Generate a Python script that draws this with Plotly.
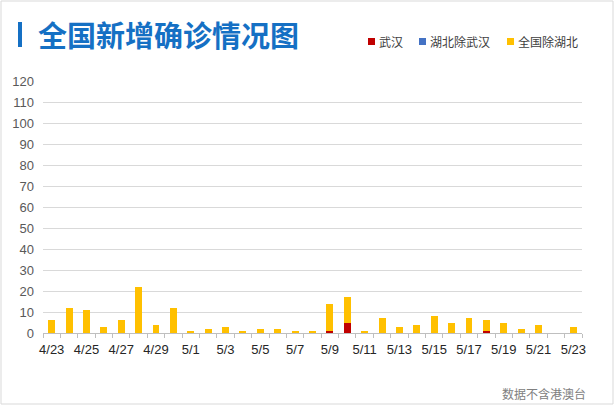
import plotly.graph_objects as go

# 日期
dates = ["4/23", "4/24", "4/25", "4/26", "4/27", "4/28", "4/29", "4/30",
         "5/1", "5/2", "5/3", "5/4", "5/5", "5/6", "5/7", "5/8", "5/9", "5/10",
         "5/11", "5/12", "5/13", "5/14", "5/15", "5/16", "5/17", "5/18", "5/19",
         "5/20", "5/21", "5/22", "5/23"]

# 各区域新增确诊
wuhan = [0, 0, 0, 0, 0, 0, 0, 0, 0, 0, 0, 0, 0, 0, 0, 0, 1, 5,
         0, 0, 0, 0, 0, 0, 0, 1, 0, 0, 0, 0, 0]
hubei_ex_wuhan = [0] * 31
rest_of_china = [6, 12, 11, 3, 6, 22, 4, 12, 1, 2, 3, 1, 2, 2, 1, 1, 13, 12,
                 1, 7, 3, 4, 8, 5, 7, 5, 5, 2, 4, 0, 3]

series_names = ["武汉", "湖北除武汉", "全国除湖北"]
series_colors = ["#c00000", "#4472c4", "#ffc000"]

tick_text = [d if i % 2 == 0 else "" for i, d in enumerate(dates)]

W, H = 615, 406
ML, MR, MT, MB = 43, 33, 81, 73
PW, PH = W - ML - MR, H - MT - MB


def px_x(p):
    return (p - ML) / PW


def px_y(p):
    return (H - MB - p) / PH


fig = go.Figure()
for name, vals, color in zip(series_names, [wuhan, hubei_ex_wuhan, rest_of_china], series_colors):
    fig.add_trace(go.Bar(x=dates, y=vals, name=name, marker_color=color,
                         marker_line_width=0, showlegend=False))

font_latin = "Liberation Sans, Arial, Noto Sans CJK SC"
font_cjk = "Noto Sans CJK SC, sans-serif"

annotations = [
    dict(text="<b>全国新增确诊情况图</b>", x=px_x(36), y=px_y(34), xref="paper", yref="paper",
         xanchor="left", yanchor="middle", showarrow=False,
         font=dict(family=font_cjk, size=29, color="#1570c4")),
    dict(text="数据不含港澳台", x=px_x(588), y=px_y(393), xref="paper", yref="paper",
         xanchor="right", yanchor="middle", showarrow=False,
         font=dict(family=font_cjk, size=12, color="#808080")),
]
shapes = [
    dict(type="rect", xref="paper", yref="paper", x0=px_x(1), x1=px_x(613),
         y0=px_y(404), y1=px_y(1), line=dict(color="#d9d9d9", width=1), layer="below"),
    dict(type="rect", xref="paper", yref="paper", x0=px_x(18), x1=px_x(22),
         y0=px_y(47), y1=px_y(22), fillcolor="#1570c4", line_width=0),
]

# 图例
legend_sq = [368, 419, 507]
for name, color, sx in zip(series_names, series_colors, legend_sq):
    shapes.append(dict(type="rect", xref="paper", yref="paper", x0=px_x(sx), x1=px_x(sx + 7),
                       y0=px_y(45), y1=px_y(38), fillcolor=color, line_width=0))
    annotations.append(dict(text=name, x=px_x(sx + 9), y=px_y(41.5), xref="paper", yref="paper",
                            xanchor="left", yanchor="middle", showarrow=False,
                            font=dict(family=font_cjk, size=12, color="#404040")))

fig.update_layout(
    width=W, height=H,
    margin=dict(l=ML, r=MR, t=MT, b=MB),
    barmode="stack", bargap=0.6,
    plot_bgcolor="white", paper_bgcolor="white",
    annotations=annotations, shapes=shapes,
    xaxis=dict(tickmode="array", tickvals=dates, ticktext=tick_text,
               tickson="boundaries", ticks="outside", ticklen=4, tickcolor="#bfbfbf",
               showline=True, linecolor="#bfbfbf", showgrid=False,
               tickfont=dict(family=font_latin, size=13, color="#262626"),
               ticklabelstandoff=4, tickangle=0),
    yaxis=dict(range=[0, 120], dtick=10, showgrid=True, gridcolor="#d9d9d9",
               zeroline=False, showline=False,
               tickfont=dict(family=font_latin, size=13, color="#595959"),
               ticklabelstandoff=8),
)

# 去掉页面默认边距
fig.write_html("out.html", config={"displayModeBar": False},
               post_script="document.body.style.margin='0';")
